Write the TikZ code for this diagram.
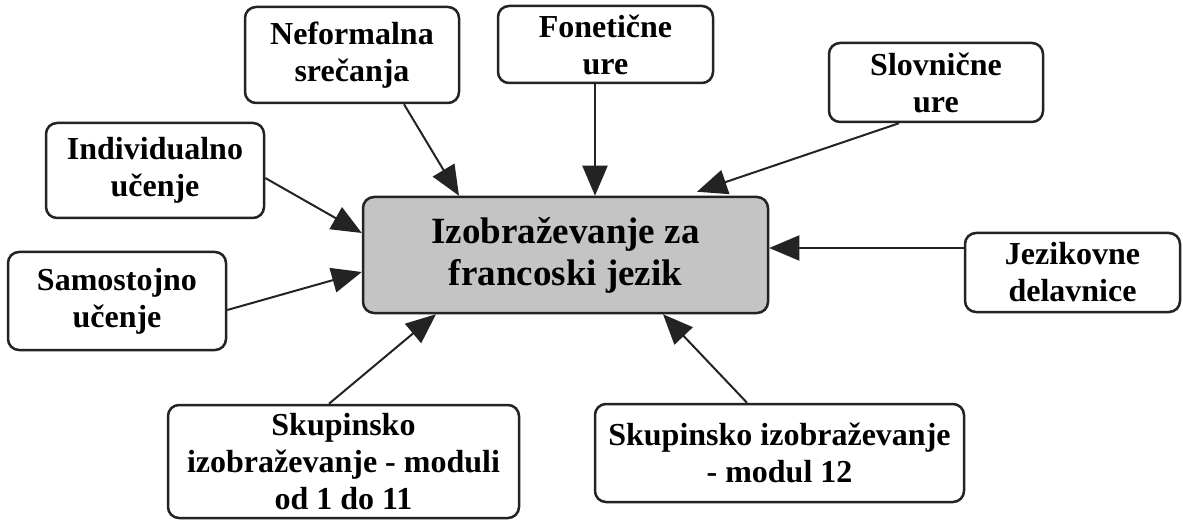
\documentclass[tikz,border=0pt]{standalone}
\usepackage{fontspec}
\setmainfont{Liberation Serif}
\usetikzlibrary{arrows.meta}
\definecolor{hubgray}{RGB}{196,196,196}
\definecolor{inkgray}{RGB}{35,35,35}

\begin{document}
\begin{tikzpicture}[x=1pt, y=-1pt,
    topic/.style={draw=inkgray, line width=2.5pt, rounded corners=11pt, fill=white, align=center,
      inner sep=0pt, font=\bfseries\fontsize{32}{37}\selectfont},
    hub/.style={topic, fill=hubgray, font=\bfseries\fontsize{37}{42}\selectfont},
    arr/.style={draw=inkgray, line width=2pt, -{Triangle[length=30pt, width=25pt]}}]
  \useasboundingbox (0,0) rectangle (1183,521);

  % Central box
  \node[hub, minimum width=405pt, minimum height=116pt] (cen) at (565.5,255) {Izobraževanje za\\francoski jezik};

  % Outer boxes
  \node[topic, minimum width=214pt, minimum height=96pt] (nef) at (352,55) {Neformalna\\srečanja};
  \node[topic, minimum width=215pt, minimum height=77pt] (fon) at (605.5,44.5) {Fonetične\\ure};
  \node[topic, minimum width=214pt, minimum height=79pt] (slo) at (936,82.5) {Slovnične\\ure};
  \node[topic, minimum width=218pt, minimum height=95pt] (ind) at (155,170.5) {Individualno\\učenje};
  \node[topic, minimum width=218pt, minimum height=98pt] (sam) at (117,301) {Samostojno\\učenje};
  \node[topic, minimum width=215pt, minimum height=79pt] (jez) at (1072.5,272.5) {Jezikovne\\delavnice};
  \node[topic, minimum width=351pt, minimum height=113pt] (mod) at (343.5,461.5) {Skupinsko\\izobraževanje - moduli\\od 1 do 11};
  \node[topic, minimum width=369pt, minimum height=98pt] (mtw) at (779.5,453) {Skupinsko izobraževanje\\- modul 12};

  % Arrows into the central box
  \draw[arr] ([xshift=52pt]nef.south) -- ([xshift=-106.5pt]cen.north);
  \draw[arr] ([xshift=-10.5pt]fon.south) -- ([xshift=29.5pt]cen.north);
  \draw[arr] ([xshift=-37pt]slo.south) -- ([xshift=131.5pt,yshift=4pt]cen.north);
  \draw[arr] ([yshift=-7.5pt]ind.east) -- ([yshift=22pt]cen.west);
  \draw[arr] ([yshift=-9pt]sam.east) -- ([yshift=-17pt]cen.west);
  \draw[arr] ([yshift=24.5pt]jez.west) -- ([yshift=7pt]cen.east);
  \draw[arr] ([xshift=-14.5pt]mod.north) -- ([xshift=-129.5pt]cen.south);
  \draw[arr] ([xshift=-32.5pt]mtw.north) -- ([xshift=97.5pt]cen.south);
\end{tikzpicture}
\end{document}
